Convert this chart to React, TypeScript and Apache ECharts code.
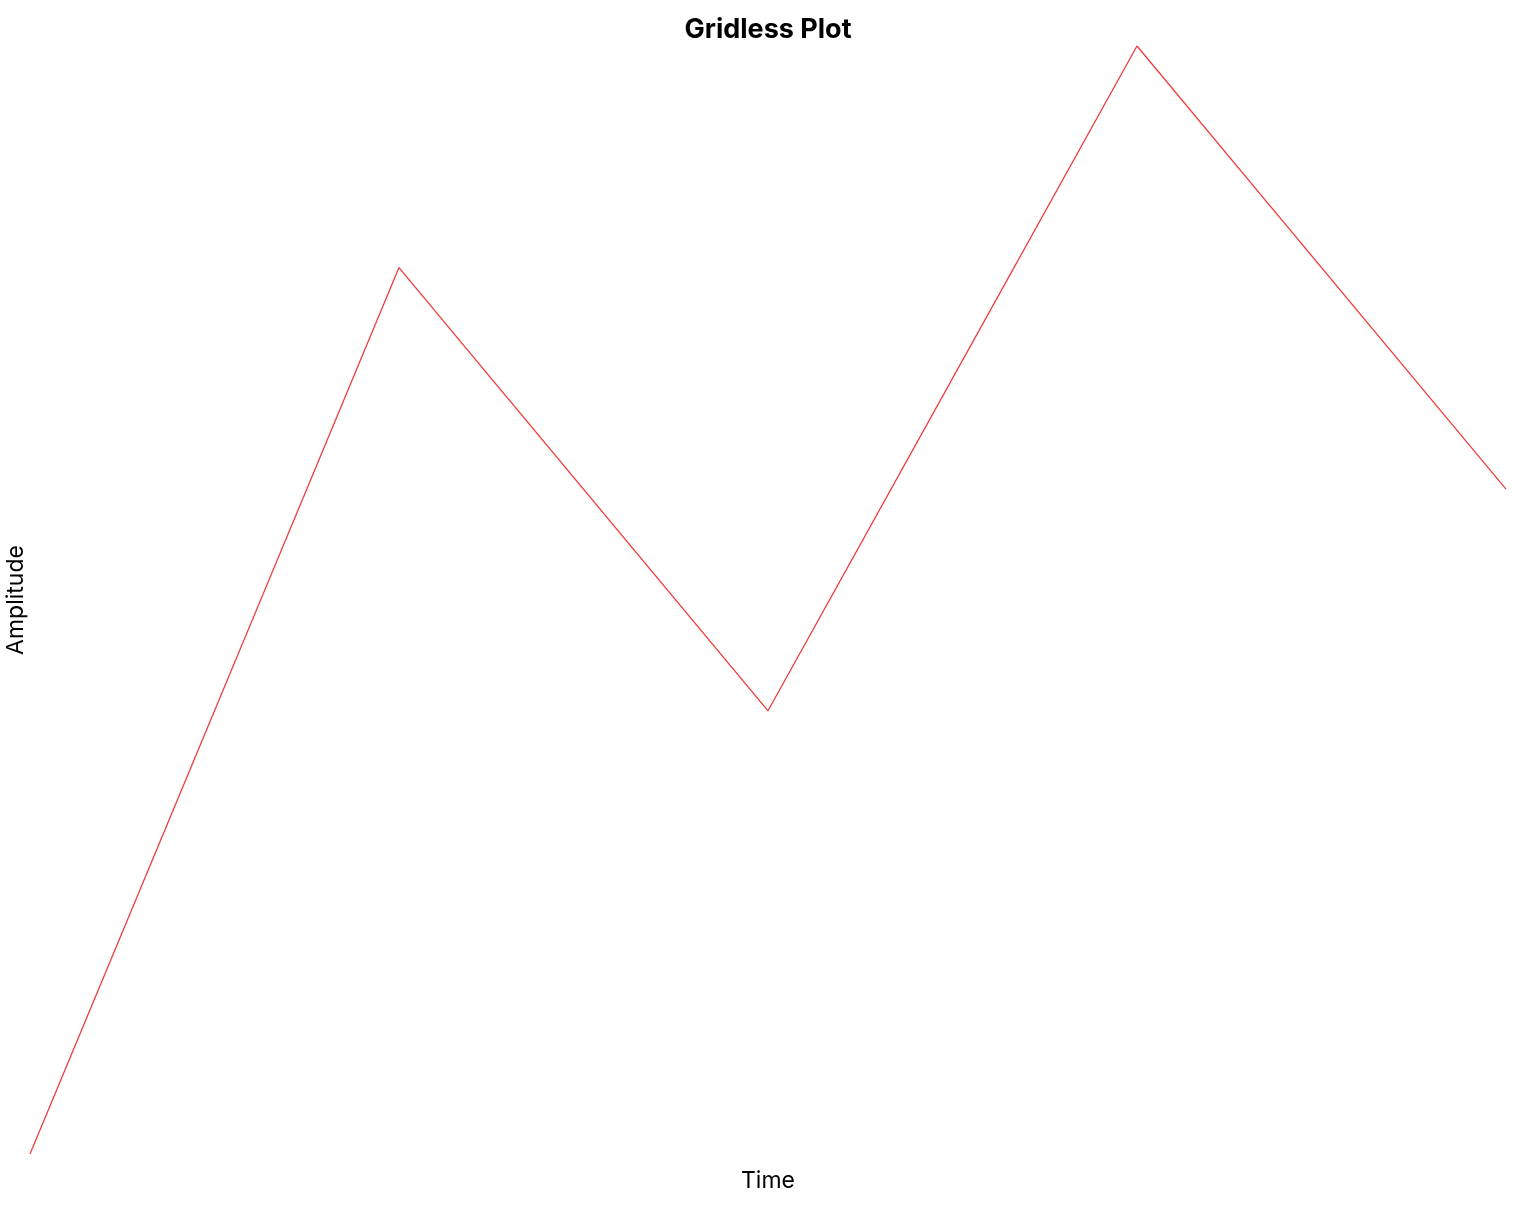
import React, { useEffect, useRef } from 'react';
import * as echarts from 'echarts';

const times = [1, 2, 3, 4, 5];
const amplitudes = [1, 5, 3, 6, 4];

const App: React.FC = () => {
  const chartRef = useRef<HTMLDivElement>(null);

  useEffect(() => {
    if (!chartRef.current) return;
    const chart = echarts.init(chartRef.current, undefined, { renderer: 'svg' });

    chart.setOption({
      animation: false,
      textStyle: { fontFamily: 'Inter' },
      title: {
        text: 'Gridless Plot',
        left: 'center',
        top: 10,
        textStyle: { fontFamily: 'Inter', fontSize: 27, fontWeight: 'bold', color: '#000' }
      },
      grid: { left: 30, right: 30, top: 46, bottom: 59, outerBoundsMode: 'none', containLabel: false },
      xAxis: {
        type: 'value',
        min: 1,
        max: 5,
        name: 'Time',
        nameLocation: 'middle',
        nameGap: 14,
        nameTextStyle: { fontFamily: 'Inter', fontSize: 23, color: '#000' },
        axisLine: { show: false },
        axisTick: { show: false },
        axisLabel: { show: false },
        splitLine: { show: false }
      },
      yAxis: {
        type: 'value',
        min: 1,
        max: 6,
        name: 'Amplitude',
        nameLocation: 'middle',
        nameGap: 4,
        nameTextStyle: { fontFamily: 'Inter', fontSize: 23, color: '#000' },
        axisLine: { show: false },
        axisTick: { show: false },
        axisLabel: { show: false },
        splitLine: { show: false }
      },
      series: [{
        type: 'line',
        data: times.map((t, i) => [t, amplitudes[i]]),
        showSymbol: false,
        lineStyle: { color: '#f03c3c', width: 1.3 }
      }]
    });

    return () => chart.dispose();
  }, []);

  return (
    <div
      ref={chartRef}
      style={{ position: 'fixed', left: 0, top: 0, width: '100vw', height: '100vh' }}
    />
  );
};

export default App;
